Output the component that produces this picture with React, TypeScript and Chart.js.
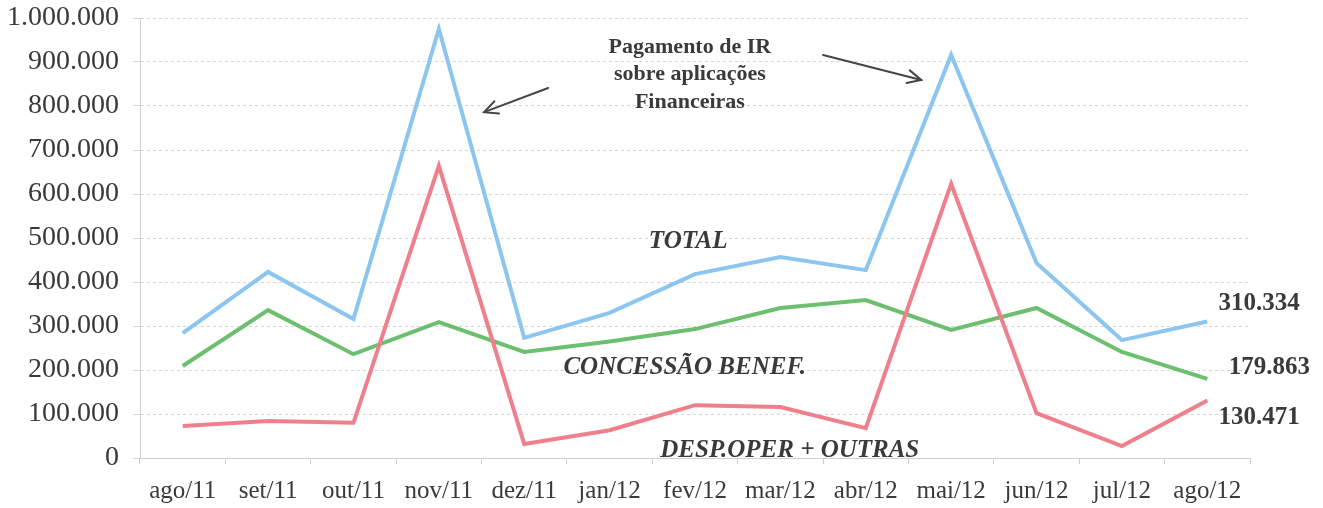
import React, { useEffect, useRef } from "react";
import { Chart, registerables } from "chart.js";

Chart.register(...registerables);

const categories = ["ago/11", "set/11", "out/11", "nov/11", "dez/11", "jan/12", "fev/12", "mar/12", "abr/12", "mai/12", "jun/12", "jul/12", "ago/12"];
const totalValues = [284000, 423000, 316000, 975000, 273000, 330000, 418000, 457000, 427000, 916000, 443000, 268000, 310334];
const concessaoValues = [209000, 336000, 236000, 309000, 241000, 265000, 293000, 341000, 359000, 291000, 341000, 241000, 179863];
const despValues = [73000, 84000, 80000, 664000, 32000, 63000, 120000, 116000, 68000, 623000, 102000, 27000, 130471];
const yMin = 0;
const yMax = 1000000;
const yStep = 100000;

const seriesNames = ["DESP.OPER + OUTRAS", "CONCESSÃO BENEF.", "TOTAL"];
const noteLines = ["Pagamento de IR", "sobre aplicações", "Financeiras"];

const fmt = (n: number) => String(Math.round(n)).replace(/\B(?=(\d{3})+(?!\d))/g, ".");

const SERIF = "'Liberation Serif', 'Times New Roman', serif";
const TEXT = "#3a3a3a";

// annotation anchors in data space (category index, value)
const seriesLabelAnchors = [
  { text: seriesNames[2], idx: 5.92, val: 491000 },
  { text: seriesNames[1], idx: 5.88, val: 205000 },
  { text: seriesNames[0], idx: 7.11, val: 18000 },
];
const endLabelAnchors = [
  { value: totalValues[12], idx: 12.13, val: 352000 },
  { value: concessaoValues[12], idx: 12.25, val: 205000 },
  { value: despValues[12], idx: 12.13, val: 93000 },
];
const noteAnchor = { idx: 5.94, val: 934000 };
const arrows = [
  { from: [4.28, 841000], to: [3.53, 786000] },
  { from: [7.5, 916000], to: [8.65, 859000] },
];

const annotationPlugin = {
  id: "annots",
  afterDraw(chart: any) {
    const { ctx, scales } = chart;
    const xs = scales.x;
    const ys = scales.y;
    const px = (i: number) => {
      const a = xs.getPixelForValue(0);
      const b = xs.getPixelForValue(1);
      return a + (b - a) * i;
    };
    const py = (v: number) => ys.getPixelForValue(v);
    ctx.save();
    ctx.fillStyle = TEXT;
    ctx.textBaseline = "middle";
    ctx.font = `bold 22px ${SERIF}`;
    ctx.textAlign = "center";
    noteLines.forEach((l, k) => {
      ctx.fillText(l, px(noteAnchor.idx), py(noteAnchor.val) + k * 27.5);
    });
    ctx.font = `italic bold 25px ${SERIF}`;
    seriesLabelAnchors.forEach((a) => {
      ctx.fillText(a.text, px(a.idx), py(a.val));
    });
    ctx.font = `bold 25px ${SERIF}`;
    ctx.textAlign = "left";
    endLabelAnchors.forEach((a) => {
      ctx.fillText(fmt(a.value), px(a.idx), py(a.val));
    });
    ctx.strokeStyle = "#454545";
    ctx.lineWidth = 2;
    ctx.lineCap = "round";
    arrows.forEach((ar) => {
      const x1 = px(ar.from[0]);
      const y1 = py(ar.from[1]);
      const x2 = px(ar.to[0]);
      const y2 = py(ar.to[1]);
      ctx.beginPath();
      ctx.moveTo(x1, y1);
      ctx.lineTo(x2, y2);
      ctx.stroke();
      const ang = Math.atan2(y2 - y1, x2 - x1);
      const hl = 15;
      const spread = 0.45;
      ctx.beginPath();
      ctx.moveTo(x2 - hl * Math.cos(ang - spread), y2 - hl * Math.sin(ang - spread));
      ctx.lineTo(x2, y2);
      ctx.lineTo(x2 - hl * Math.cos(ang + spread), y2 - hl * Math.sin(ang + spread));
      ctx.stroke();
    });
    ctx.restore();
  },
};

export default function App() {
  const ref = useRef<HTMLCanvasElement>(null);
  useEffect(() => {
    if (!ref.current) return;
    const chart = new Chart(ref.current, {
      type: "line",
      data: {
        labels: categories,
        datasets: [
          { label: seriesNames[0], data: despValues, borderColor: "#ef7f8b", borderWidth: 4, pointRadius: 0, tension: 0, fill: false },
          { label: seriesNames[1], data: concessaoValues, borderColor: "#6cbf6f", borderWidth: 4, pointRadius: 0, tension: 0, fill: false },
          { label: seriesNames[2], data: totalValues, borderColor: "#8cc5ef", borderWidth: 4, pointRadius: 0, tension: 0, fill: false },
        ],
      },
      options: {
        animation: false,
        responsive: true,
        maintainAspectRatio: false,
        layout: { padding: { left: 0, right: 73, top: 18, bottom: 0 } },
        plugins: { legend: { display: false }, tooltip: { enabled: false } },
        scales: {
          x: {
            offset: true,
            grid: { display: true, offset: true, drawOnChartArea: false, drawTicks: true, tickLength: 6, color: "#cfcfcf" },
            border: { display: true, color: "#cfcfcf" },
            ticks: { font: { family: SERIF, size: 25 }, color: TEXT, padding: 12, maxRotation: 0, autoSkip: false },
            afterFit: (s: any) => { s.height = 50; s.paddingLeft = 0; s.paddingRight = 0; },
          },
          y: {
            min: yMin,
            max: yMax,
            grid: { color: "#d6d6d6", tickLength: 7, drawTicks: true },
            border: { display: true, color: "#cfcfcf", dash: [3, 3] },
            ticks: { stepSize: yStep, font: { family: SERIF, size: 28 }, color: TEXT, padding: 14, callback: (v: any) => fmt(Number(v)) },
            afterFit: (s: any) => { s.width = 140; s.paddingTop = 0; s.paddingBottom = 0; },
          },
        },
      },
      plugins: [annotationPlugin],
    });
    return () => chart.destroy();
  }, []);
  return (
    <div style={{ position: "fixed", left: 0, top: 0, width: 1323, height: 508, background: "#fff" }}>
      <canvas ref={ref} />
    </div>
  );
}
